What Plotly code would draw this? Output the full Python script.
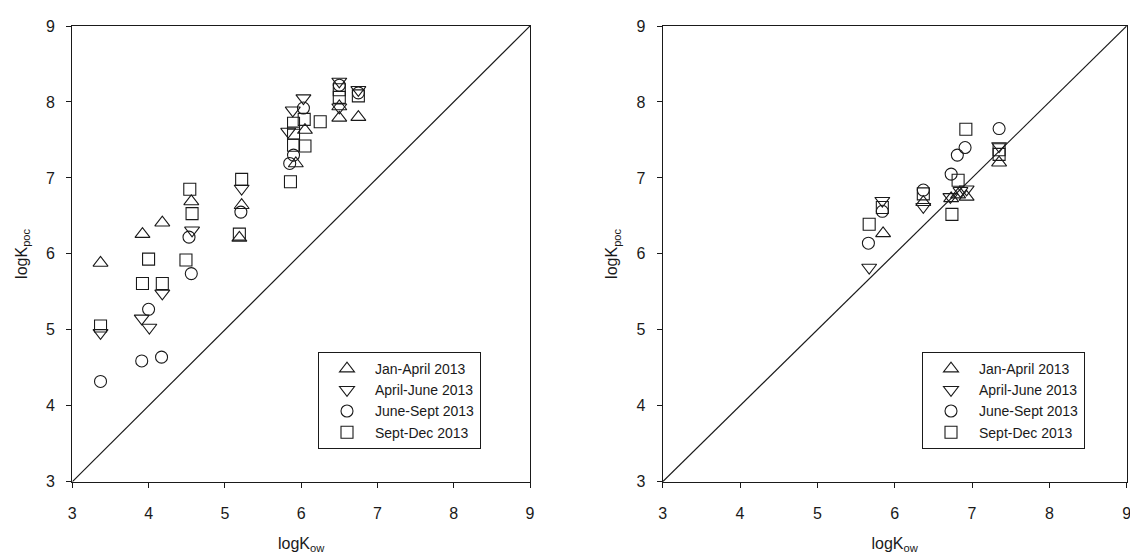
import plotly.graph_objects as go

# ---- left panel: logKow vs logKpoc per sampling period ----
left_jan_x = [3.37, 3.92, 4.18, 4.56, 5.19, 5.22, 5.93, 6.05, 6.50, 6.50, 6.75]
left_jan_y = [5.88, 6.26, 6.41, 6.69, 6.21, 6.64, 7.19, 7.63, 7.94, 7.79, 7.80]

left_apr_x = [3.37, 3.91, 4.01, 4.18, 4.57, 5.22, 5.83, 5.89, 6.03, 6.50, 6.50, 6.75]
left_apr_y = [4.96, 5.15, 5.03, 5.48, 6.31, 6.86, 7.61, 7.89, 8.05, 8.27, 7.93, 8.16]

left_jun_x = [3.37, 3.91, 4.17, 4.00, 4.53, 4.56, 5.21, 5.85, 5.90, 6.03, 6.50, 6.75]
left_jun_y = [4.32, 4.59, 4.64, 5.27, 6.22, 5.74, 6.55, 7.19, 7.30, 7.92, 8.22, 8.12]

left_sep_x = [3.37, 3.92, 4.00, 4.18, 4.49, 4.54, 4.57, 5.22, 5.19, 5.86, 5.90, 5.90,
              5.90, 6.04, 6.05, 6.25, 6.50, 6.50, 6.75]
left_sep_y = [5.05, 5.61, 5.93, 5.61, 5.92, 6.85, 6.53, 6.98, 6.26, 6.95, 7.43, 7.59,
              7.72, 7.77, 7.42, 7.74, 8.16, 8.06, 8.08]

# ---- right panel ----
right_jan_x = [5.85, 6.37, 6.73, 6.82, 6.93, 7.35]
right_jan_y = [6.27, 6.68, 6.73, 6.78, 6.75, 7.20]

right_apr_x = [5.67, 5.84, 6.37, 6.72, 6.85, 6.93, 7.35]
right_apr_y = [5.82, 6.70, 6.62, 6.75, 6.83, 6.85, 7.42]

right_jun_x = [5.66, 5.84, 6.37, 6.73, 6.81, 6.91, 7.35]
right_jun_y = [6.14, 6.56, 6.84, 7.05, 7.30, 7.40, 7.65]

right_sep_x = [5.67, 5.84, 6.37, 6.74, 6.82, 6.92, 7.35, 7.35]
right_sep_y = [6.39, 6.61, 6.79, 6.52, 6.97, 7.64, 7.37, 7.31]

period_names = ["Jan-April 2013", "April-June 2013", "June-Sept 2013", "Sept-Dec 2013"]
period_symbols = ["triangle-up-open", "triangle-down-open", "circle-open", "square-open"]
period_sizes = [13, 13, 12, 12]

axis_ticks = [3, 4, 5, 6, 7, 8, 9]
one_to_one = [3, 9]

INK = "#1a1a1a"
FONT = "Liberation Sans, Arial, sans-serif"

fig = go.Figure()

left_sets = [(left_jan_x, left_jan_y), (left_apr_x, left_apr_y),
             (left_jun_x, left_jun_y), (left_sep_x, left_sep_y)]
right_sets = [(right_jan_x, right_jan_y), (right_apr_x, right_apr_y),
              (right_jun_x, right_jun_y), (right_sep_x, right_sep_y)]

# 1:1 reference lines
fig.add_trace(go.Scatter(x=one_to_one, y=one_to_one, mode="lines",
                         line=dict(color=INK, width=1.2), showlegend=False,
                         xaxis="x", yaxis="y", hoverinfo="skip"))
fig.add_trace(go.Scatter(x=one_to_one, y=one_to_one, mode="lines",
                         line=dict(color=INK, width=1.2), showlegend=False,
                         xaxis="x2", yaxis="y2", hoverinfo="skip"))

for (xs, ys), name, sym, sz in zip(left_sets, period_names, period_symbols, period_sizes):
    fig.add_trace(go.Scatter(
        x=xs, y=ys, mode="markers", name=name, legend="legend",
        marker=dict(symbol=sym, size=sz, color=INK, line=dict(width=1.1, color=INK)),
        xaxis="x", yaxis="y"))

for (xs, ys), name, sym, sz in zip(right_sets, period_names, period_symbols, period_sizes):
    fig.add_trace(go.Scatter(
        x=xs, y=ys, mode="markers", name=name, legend="legend2",
        marker=dict(symbol=sym, size=sz, color=INK, line=dict(width=1.1, color=INK)),
        xaxis="x2", yaxis="y2"))

W, H = 1130, 557


def xdom(a, b):
    return [a / W, b / W]


def ydom(top, bottom):
    return [(H - bottom) / H, (H - top) / H]


def xaxis_style(domain, anchor):
    return dict(
        domain=domain, anchor=anchor, range=[3, 9], tickvals=axis_ticks,
        showgrid=False, zeroline=False, showline=True, mirror=True,
        linecolor=INK, linewidth=1.2, ticks="outside", ticklen=5, tickwidth=1.2,
        tickcolor=INK, ticklabelstandoff=12, ticklabeloverflow="allow",
        tickfont=dict(family=FONT, size=16, color=INK),
        title=dict(text="logK<sub>ow</sub>", font=dict(family=FONT, size=16, color=INK),
                   standoff=16),
        automargin=False, fixedrange=True)


def yaxis_style(domain, anchor):
    return dict(
        domain=domain, anchor=anchor, range=[3, 9], tickvals=axis_ticks,
        showgrid=False, zeroline=False, showline=True, mirror=True,
        linecolor=INK, linewidth=1.2, ticks="outside", ticklen=5, tickwidth=1.2,
        tickcolor=INK, ticklabelstandoff=8, ticklabeloverflow="allow",
        tickfont=dict(family=FONT, size=16, color=INK),
        title=dict(text="logK<sub>poc</sub>", font=dict(family=FONT, size=16, color=INK),
                   standoff=14),
        automargin=False, fixedrange=True)


legend_common = dict(
    bgcolor="white", bordercolor=INK, borderwidth=1,
    font=dict(family=FONT, size=14, color=INK),
    xanchor="left", yanchor="top", tracegroupgap=0, itemwidth=46,
    entrywidth=135, entrywidthmode="pixels",
)

fig.update_layout(
    width=W, height=H, template="none",
    paper_bgcolor="white", plot_bgcolor="white",
    margin=dict(l=0, r=0, t=0, b=0),
    xaxis=xaxis_style(xdom(72.3, 530), "y"),
    yaxis=yaxis_style(ydom(26, 481.7), "x"),
    xaxis2=xaxis_style(xdom(662.7, 1126.7), "y2"),
    yaxis2=yaxis_style(ydom(26, 481.7), "x2"),
    legend=dict(x=318 / W, y=(H - 352) / H, **legend_common),
    legend2=dict(x=922 / W, y=(H - 352) / H, **legend_common),
    font=dict(family=FONT, color=INK),
)

fig.write_html("out.html")
